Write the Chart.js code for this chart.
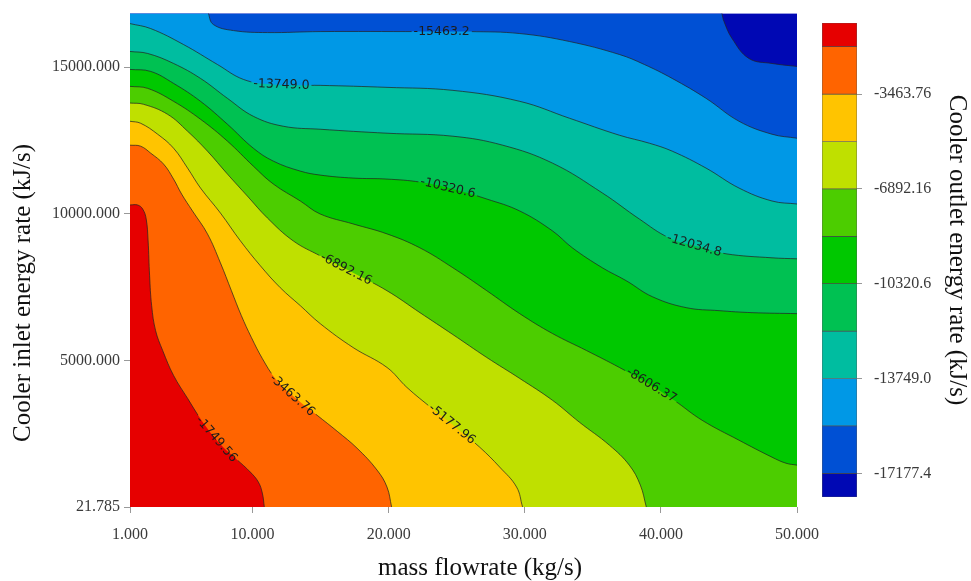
<!DOCTYPE html>
<html>
<head>
<meta charset="utf-8">
<script src="https://cdn.jsdelivr.net/npm/chart.js@4/dist/chart.umd.min.js"></script>
<style>
  html, body { margin: 0; padding: 0; background: #fff; }
  #wrap { position: relative; width: 971px; height: 581px; }
  #contour { position: absolute; left: 0; top: 0; }
  #colorbar { position: absolute; left: 800px; top: 0; }
</style>
</head>
<body>
<div id="wrap">
  <canvas id="contour" width="971" height="581"></canvas>
  <canvas id="colorbar" width="171" height="581"></canvas>
</div>
<script>
// contour levels (kJ/s), one iso-line each
const levels = [-1749.56, -3463.76, -5177.96, -6892.16, -8606.37, -10320.6, -12034.8, -13749.0, -15463.2, -17177.4];
const levelText = ['-1749.56', '-3463.76', '-5177.96', '-6892.16', '-8606.37', '-10320.6', '-12034.8', '-13749.0', '-15463.2', '-17177.4'];
// band colours, highest band first; last one is the band above the -17177.4 line
const bandColors = ['#E60000', '#FF6400', '#FFC400', '#BFE000', '#4CCD00', '#00C800', '#00C152', '#00BDA0', '#0098E6', '#0050D4', '#0008B4'];

// iso-lines as (mass flowrate, inlet energy rate) points
const lvl1X = [1, 1.56, 1.93, 2.19, 2.33, 2.44, 2.59, 2.88, 3.4, 4.2, 5.23, 6.4, 7.64, 8.82, 9.84, 10.43, 10.72, 10.87];
const lvl1Y = [10306, 10306, 10170, 9831, 9084, 7896, 6878, 6029, 5351, 4502, 3721, 2873, 2160, 1651, 1210, 871, 497, 21.785];
const lvl2X = [1, 1.78, 2.52, 3.47, 4.2, 4.79, 5.59, 6.69, 7.64, 8.45, 9.18, 9.92, 10.72, 11.67, 12.92, 14.75, 16.22, 17.68, 19.15, 19.88, 20.22];
const lvl2Y = [12342, 12308, 12071, 11697, 11188, 10679, 10102, 9322, 8337, 7387, 6538, 5792, 5079, 4400, 3823, 3144, 2601, 2024, 1278, 701, 21.785];
const lvl3X = [1, 1.78, 3.03, 4.2, 5.23, 6.18, 7.64, 9.11, 10.58, 12.04, 13.51, 14.97, 17.39, 19.88, 21.34, 23.18, 25.01, 26.69, 28.16, 29.4, 29.84];
const lvl3Y = [13157, 13089, 12716, 12240, 11562, 10883, 10034, 9084, 8235, 7489, 6878, 6267, 5452, 4774, 4095, 3382, 2703, 2058, 1380, 701, 21.785];
const lvl4X = [1, 2.0, 3.76, 5.23, 6.69, 8.16, 9.62, 11.09, 12.99, 14.97, 17.39, 19.88, 22.3, 24.72, 27.21, 29.63, 32.04, 34.02, 36.22, 37.68, 38.49, 38.93];
const lvl4Y = [13778, 13734, 13394, 12817, 12139, 11358, 10611, 9865, 9084, 8575, 7998, 7387, 6640, 5894, 5113, 4400, 3654, 2907, 2126, 1447, 769, 21.785];
const lvl5X = [1, 2.3, 4.2, 6.18, 8.16, 10.06, 11.53, 13.51, 14.97, 17.39, 19.88, 22.3, 24.72, 27.21, 29.63, 32.04, 34.53, 36.95, 39.3, 40.98, 43.03, 45.74, 48.16, 49.18, 50];
const lvl5Y = [14345, 14277, 13836, 13225, 12478, 11629, 11019, 10442, 10000, 9661, 9322, 8846, 8168, 7387, 6606, 5928, 5351, 4774, 4163, 3654, 2975, 2296, 1719, 1515, 1447];
const lvl6X = [1, 2.52, 4.2, 6.18, 8.16, 10.06, 11.53, 13.51, 14.97, 17.39, 19.88, 22.3, 24.72, 27.21, 29.63, 32.04, 33.5, 35.7, 37.46, 39.37, 41.86, 44.27, 46.69, 50];
const lvl6Y = [14922, 14854, 14447, 13836, 13055, 12240, 11799, 11460, 11324, 11222, 11188, 11086, 10849, 10509, 10102, 9423, 8846, 8168, 7726, 7183, 6810, 6708, 6640, 6606];
const lvl7X = [1, 2.3, 4.2, 6.18, 8.16, 10.06, 12.26, 14.97, 19.88, 24.72, 28.38, 32.04, 35.71, 38.41, 40.61, 42.81, 44.79, 48.16, 50];
const lvl7Y = [15533, 15465, 15125, 14616, 13937, 13326, 12987, 12885, 12750, 12648, 12342, 11731, 10713, 9831, 9186, 8880, 8643, 8507, 8473];
const lvl8X = [1, 2.52, 4.93, 7.42, 9.33, 11.31, 13.51, 14.97, 19.88, 24.72, 29.63, 33.29, 36.95, 39.15, 40.83, 43.32, 45.74, 48.16, 50];
const lvl8Y = [16483, 16313, 15770, 15091, 14582, 14413, 14379, 14379, 14311, 14209, 13836, 13259, 12682, 12410, 12139, 11562, 10883, 10442, 10340];
const lvl9X = [1, 6.55, 6.77, 7.13, 8.6, 11.09, 14.97, 22.3, 25.96, 29.63, 33.29, 36.95, 38.78, 40.83, 43.32, 45.74, 48.16, 50];
const lvl9Y = [17400, 17400, 16823, 16449, 16245, 16177, 16211, 16211, 16211, 16144, 15872, 15431, 15091, 14616, 13937, 13157, 12716, 12580];
const lvl10X = [1, 44.27, 44.49, 44.64, 45.23, 46.47, 48.16, 50];
const lvl10Y = [17400, 17400, 16823, 16551, 15974, 15295, 15125, 15023];

const contourX = [lvl1X, lvl2X, lvl3X, lvl4X, lvl5X, lvl6X, lvl7X, lvl8X, lvl9X, lvl10X];
const contourY = [lvl1Y, lvl2Y, lvl3Y, lvl4Y, lvl5Y, lvl6Y, lvl7Y, lvl8Y, lvl9Y, lvl10Y];
// where along each line (mass flowrate) its value is written
const labelX = [7.35, 12.92, 24.64, 16.88, 39.3, 24.35, 42.45, 12.12, 23.9, null];

const xTicks = [1, 10, 20, 30, 40, 50];
const yTicks = [21.785, 5000, 10000, 15000];
const xMin = 1, xMax = 50, yMin = 21.785, yMax = 16823;

// colour bar
const cbTicks = [-3463.76, -6892.16, -10320.6, -13749.0, -17177.4];
const cbTickText = ['-3463.76', '-6892.16', '-10320.6', '-13749.0', '-17177.4'];
const cbMax = -892.46, cbMin = -18034.5;

const serif = 'Liberation Serif';
const tickFont = { family: serif, size: 16 };
const tickColor = '#3a3a3a';
const labelFont = '12.5px "DejaVu Sans"';

function labelSpot(chart, i) {
  if (labelX[i] == null) return null;
  const pts = chart.getDatasetMeta(i).data;
  const px = chart.scales.x.getPixelForValue(labelX[i]);
  const yAt = p => {
    for (let j = 0; j < pts.length - 1; j++) {
      const a = pts[j], b = pts[j + 1];
      if (p >= a.x && p <= b.x) {
        const t = b.x === a.x ? 0 : (p - a.x) / (b.x - a.x);
        return a.y + t * (b.y - a.y);
      }
    }
    return pts[pts.length - 1].y;
  };
  const ctx = chart.ctx;
  ctx.save();
  ctx.font = labelFont;
  const w = ctx.measureText(levelText[i]).width;
  ctx.restore();
  return { x: px, y: yAt(px), ang: Math.atan2(yAt(px + 10) - yAt(px - 10), 20), w };
}

const areaBg = {
  id: 'areaBg',
  beforeDatasetsDraw(chart) {
    const { ctx, chartArea: a } = chart;
    ctx.save();
    ctx.fillStyle = bandColors[10];
    ctx.fillRect(a.left, a.top, a.right - a.left, a.bottom - a.top);
    ctx.restore();
  }
};

// leave a gap in each iso-line where its value is written
const lineGaps = {
  id: 'lineGaps',
  beforeDatasetDraw(chart, args) {
    const ctx = chart.ctx;
    ctx.save();
    const s = labelSpot(chart, args.index);
    if (!s) return;
    const hw = s.w / 2 + 2, hh = 7;
    const c = Math.cos(s.ang), n = Math.sin(s.ang);
    const corner = (u, v) => [s.x + u * c - v * n, s.y + u * n + v * c];
    ctx.beginPath();
    ctx.rect(0, 0, chart.width, chart.height);
    const p = [corner(-hw, -hh), corner(hw, -hh), corner(hw, hh), corner(-hw, hh)];
    ctx.moveTo(p[0][0], p[0][1]);
    for (let k = 1; k < 4; k++) ctx.lineTo(p[k][0], p[k][1]);
    ctx.closePath();
    ctx.clip('evenodd');
  },
  afterDatasetDraw(chart) {
    chart.ctx.restore();
  }
};

const lineLabels = {
  id: 'lineLabels',
  afterDatasetsDraw(chart) {
    const ctx = chart.ctx;
    levels.forEach((lv, i) => {
      const s = labelSpot(chart, i);
      if (!s) return;
      ctx.save();
      ctx.translate(s.x, s.y);
      ctx.rotate(s.ang);
      ctx.font = labelFont;
      ctx.fillStyle = '#1c1c1c';
      ctx.textAlign = 'center';
      ctx.textBaseline = 'middle';
      ctx.fillText(levelText[i], 0, 0);
      ctx.restore();
    });
  }
};

const axisTitles = {
  id: 'axisTitles',
  afterDraw(chart) {
    const ctx = chart.ctx;
    ctx.save();
    ctx.font = '25px "' + serif + '"';
    ctx.fillStyle = '#111';
    ctx.textAlign = 'center';
    ctx.textBaseline = 'alphabetic';
    ctx.fillText('mass flowrate (kg/s)', 480, 575);
    ctx.translate(30, 293);
    ctx.rotate(-Math.PI / 2);
    ctx.fillText('Cooler inlet energy rate (kJ/s)', 0, 0);
    ctx.restore();
  }
};

const datasets = levels.map((lv, i) => ({
  label: levelText[i],
  data: contourX[i].map((x, j) => ({ x, y: contourY[i][j] })),
  fill: 'start',
  backgroundColor: bandColors[i],
  borderColor: 'rgba(35,35,35,0.8)',
  borderWidth: 0.9,
  tension: 0.4,
  pointRadius: 0
}));

new Chart(document.getElementById('contour'), {
  type: 'line',
  data: { datasets },
  options: {
    responsive: false,
    animation: false,
    events: [],
    layout: { padding: { top: 12, right: 174, bottom: 0, left: 0 } },
    elements: { line: { capBezierPoints: false } },
    plugins: { legend: { display: false }, tooltip: { enabled: false } },
    scales: {
      x: {
        type: 'linear',
        min: xMin,
        max: xMax,
        afterFit: s => { s.height = 74; },
        afterBuildTicks: s => { s.ticks = xTicks.map(v => ({ value: v })); },
        ticks: { callback: v => v.toFixed(3), font: tickFont, color: tickColor, padding: 12, maxRotation: 0, autoSkip: false },
        grid: { drawOnChartArea: false, tickLength: 6, color: '#999' },
        border: { display: false }
      },
      y: {
        type: 'linear',
        min: yMin,
        max: yMax,
        afterFit: s => { s.width = 130; },
        afterBuildTicks: s => { s.ticks = yTicks.map(v => ({ value: v })); },
        ticks: { callback: v => v.toFixed(3), font: tickFont, color: tickColor, padding: 4, autoSkip: false },
        grid: { drawOnChartArea: false, tickLength: 6, color: '#999' },
        border: { display: false }
      }
    }
  },
  plugins: [areaBg, lineGaps, lineLabels, axisTitles]
});

// colour bar: one floating bar per band
const bandEdges = [cbMax, ...levels, cbMin];

const cbTitle = {
  id: 'cbTitle',
  afterDraw(chart) {
    const ctx = chart.ctx;
    ctx.save();
    ctx.font = '25px "' + serif + '"';
    ctx.fillStyle = '#111';
    ctx.textAlign = 'center';
    ctx.textBaseline = 'alphabetic';
    ctx.translate(150, 250);
    ctx.rotate(Math.PI / 2);
    ctx.fillText('Cooler outlet energy rate (kJ/s)', 0, 0);
    ctx.restore();
  }
};

new Chart(document.getElementById('colorbar'), {
  type: 'bar',
  data: {
    labels: [''],
    datasets: bandColors.map((c, i) => ({
      data: [[bandEdges[i + 1], bandEdges[i]]],
      backgroundColor: c,
      borderColor: 'rgba(60,60,60,0.85)',
      borderWidth: 0.7,
      borderSkipped: false,
      grouped: false,
      barPercentage: 1,
      categoryPercentage: 1
    }))
  },
  options: {
    responsive: false,
    animation: false,
    events: [],
    layout: { padding: { top: 23, right: 0, bottom: 84, left: 22 } },
    plugins: { legend: { display: false }, tooltip: { enabled: false } },
    scales: {
      x: { display: false },
      y: {
        position: 'right',
        min: cbMin,
        max: cbMax,
        afterFit: s => { s.width = 114; },
        afterBuildTicks: s => { s.ticks = cbTicks.map(v => ({ value: v })); },
        ticks: { callback: (v, i) => cbTickText[i], font: tickFont, color: tickColor, padding: 12, autoSkip: false },
        grid: { drawOnChartArea: false, tickLength: 5, color: '#999' },
        border: { display: false }
      }
    }
  },
  plugins: [cbTitle]
});
</script>
</body>
</html>
